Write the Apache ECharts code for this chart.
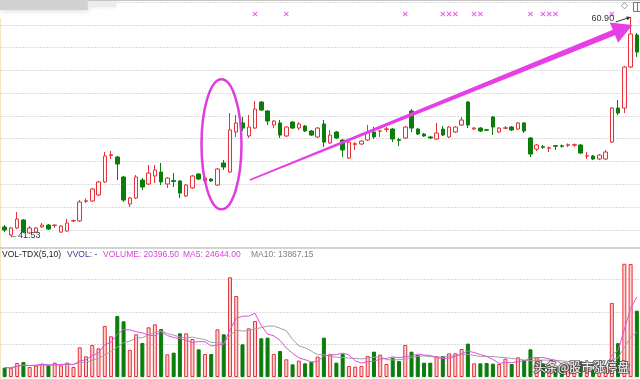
<!DOCTYPE html>
<html><head><meta charset="utf-8">
<script src="https://cdn.jsdelivr.net/npm/echarts@6/dist/echarts.min.js"></script>
<style>html,body{margin:0;padding:0;background:#fff;overflow:hidden}#c{width:640px;height:379px}</style>
</head><body><div id="c"></div>
<script>
// ---- data ----
const opens = [42.33,41.62,42.24,42.95,41.80,41.88,42.33,42.50,42.46,41.88,
41.97,42.86,42.86,44.60,44.63,45.16,46.31,48.65,48.52,46.75,
44.36,44.89,46.48,46.13,46.84,47.19,46.13,46.43,46.40,45.07,
45.78,47.01,46.40,46.57,46.04,47.99,47.19,50.73,51.53,50.38,
51.08,53.38,52.59,51.35,51.53,50.38,51.61,51.08,51.26,50.82,
50.29,51.44,49.76,50.73,50.02,48.43,49.63,49.67,50.02,50.73,
50.80,50.96,50.99,50.05,50.20,52.59,50.99,50.55,50.29,50.11,
50.99,50.29,50.73,51.35,53.38,51.00,51.08,50.93,52.06,50.73,
51.06,51.17,50.99,51.53,50.20,49.22,49.43,49.29,49.52,49.51,
49.55,49.56,49.58,48.59,48.61,48.34,48.34,49.84,52.85,52.85,
56.48,59.31];
const closes = [42.06,42.24,43.03,41.88,42.24,42.24,42.50,42.15,42.50,42.41,
42.68,42.90,44.54,44.65,45.69,46.31,48.61,48.72,47.90,44.71,
44.89,46.75,45.86,47.10,47.37,46.31,46.66,46.36,45.33,46.04,
46.84,46.57,46.66,46.40,47.46,47.63,50.91,51.53,51.08,51.17,
52.76,52.67,51.70,51.70,50.46,51.17,51.08,51.44,50.82,50.46,
51.08,49.84,50.46,50.20,49.14,49.84,49.70,49.93,50.64,50.29,
50.82,51.01,50.11,49.98,51.17,51.08,50.55,50.38,50.20,50.64,
50.46,51.17,51.17,51.79,51.35,51.08,50.82,50.88,51.17,51.08,
51.10,50.91,51.53,50.82,48.78,49.58,49.38,49.33,49.47,49.46,
49.60,49.61,48.87,48.63,48.34,48.69,48.96,52.85,52.41,56.48,
59.40,57.80];
const lows = [41.88,41.53,42.15,41.80,41.72,41.80,42.24,42.06,42.24,41.80,
41.90,42.77,42.77,44.45,44.54,45.07,46.22,48.34,46.48,44.54,
44.10,44.80,45.60,46.04,46.22,46.04,45.78,45.86,44.89,44.98,
45.69,46.48,46.31,46.31,45.95,47.37,47.10,50.29,50.82,50.20,
50.99,52.58,51.35,51.08,50.20,50.29,50.99,50.91,50.73,50.38,
50.20,49.40,49.67,50.11,48.52,48.34,49.14,49.58,49.93,50.11,
50.29,50.73,49.84,49.49,50.11,50.73,50.46,50.29,50.11,50.02,
50.38,50.20,50.64,51.26,51.08,50.91,50.73,50.82,50.46,50.64,
50.99,50.82,50.91,50.64,48.52,49.05,49.22,48.96,49.14,49.35,
49.40,49.42,48.78,48.34,48.25,48.25,48.25,49.76,52.23,52.41,
56.39,57.36];
const highs = [42.50,42.33,43.65,43.03,42.41,42.33,42.68,42.59,42.55,42.50,
43.03,42.99,44.71,44.85,45.78,46.41,48.96,49.05,48.60,46.84,
44.98,46.93,46.66,47.81,47.81,47.99,46.75,47.10,46.48,46.13,
46.93,47.10,46.75,46.66,47.55,48.25,52.41,52.23,52.06,52.23,
53.47,53.47,52.67,51.79,51.79,51.26,51.70,51.61,51.35,50.91,
51.17,51.79,50.91,50.82,50.11,49.93,49.84,50.02,51.35,51.17,
50.90,51.17,51.08,50.20,51.26,52.76,51.08,50.64,50.38,51.53,
51.26,51.26,51.26,52.06,53.47,51.17,51.17,50.99,52.15,51.17,
51.26,51.26,51.61,51.61,50.29,49.67,49.58,49.45,49.58,49.62,
49.72,49.72,49.67,48.96,48.70,48.78,49.14,52.94,53.56,56.57,
60.90,59.49];
const volumes = [2870,2770,4310,4620,3080,3490,4100,3590,4410,3590,
4410,3080,9130,6360,9850,8820,15700,12520,18780,17130,
8310,13130,10470,15290,16210,14770,6980,7490,13440,13440,
11700,8520,7080,7080,14670,13130,30680,24930,10050,14980,
17240,11900,12110,7080,8000,5440,3900,5030,4210,4620,
6260,12100,6980,4410,7080,3390,3180,3390,6460,7800,
6870,4000,5950,4920,9850,7800,6770,4410,4410,6360,
6460,7280,7280,8620,10260,4210,4210,4310,4100,4000,
5640,4000,6050,5230,8520,6050,4210,3700,3390,2980,
3590,4000,4880,2800,2350,2800,2621.5,22800,10400,34850,
34773.5,20396.5];
const signalIdx = [40,45,64,70,71,72,75,76,84,86,87,88,97];   // pink x markers on top row
const signalLevel = 61.17;
const buyIdx = [18];             // red "§" marker
const buyLevel = 40.73;
const priceMin = 40.47, priceMax = 62.23;
const volMax = 40000, volStep = 10000;
// annotation anchors (category index, price)
const ellipseBox = {x0: 31.45, x1: 37.84, top: 55.39, bottom: 43.89};
const arrowFrom = [39.17, 46.48], arrowTo = [100.3, 60.19];

// ---- derived ----
const categories = opens.map((_, i) => String(i + 1));
const kData = opens.map((o, i) => [o, closes[i], lows[i], highs[i]]);
const isUp = i => closes[i] >= opens[i];
function ma(arr, n) {
  return arr.map((_, i) => { const s = Math.max(0, i - n + 1); let t = 0; for (let k = s; k <= i; k++) t += arr[k]; return +(t / (i - s + 1)).toFixed(2); });
}
const ma5 = ma(volumes, 5), ma10 = ma(volumes, 10);
const last = volumes.length - 1;
let hiIdx = 0, loIdx = 0;
highs.forEach((h, i) => { if (h > highs[hiIdx]) hiIdx = i; });
lows.forEach((l, i) => { if (l < lows[loIdx]) loIdx = i; });

const RED = '#e6323a', GREEN = '#0b7d0b', PINK = '#e040e0';
const FONT = '"Liberation Sans", Arial, "DejaVu Sans", sans-serif';
const dotted = {type: [1, 2], color: '#b8b8b8', width: 1};

const chart = echarts.init(document.getElementById('c'), null, {renderer: 'canvas'});
const option = {
  animation: false,
  backgroundColor: '#fff',
  grid: [
    {left: 1.5, right: 0, top: 2, height: 246},
    {left: 1.5, right: 0, top: 247, bottom: 2}
  ],
  xAxis: [
    {gridIndex: 0, type: 'category', data: categories, boundaryGap: true, show: false},
    {gridIndex: 1, type: 'category', data: categories, boundaryGap: true, show: false}
  ],
  yAxis: [
    {gridIndex: 0, type: 'value', min: priceMin, max: priceMax, show: false},
    {gridIndex: 0, type: 'value', min: 0, max: 10.8, interval: 1, inverse: true,
      axisLine: {show: false}, axisTick: {show: false}, axisLabel: {show: false},
      splitLine: {show: true, lineStyle: dotted}},
    {gridIndex: 1, type: 'value', min: 0, max: volMax, interval: volStep,
      axisLine: {show: false}, axisTick: {show: false}, axisLabel: {show: false},
      splitLine: {show: true, lineStyle: dotted}}
  ],
  series: [
    {type: 'candlestick', xAxisIndex: 0, yAxisIndex: 0, data: kData, barWidth: 4, z: 3,
      itemStyle: {color: '#fff8f8', color0: GREEN, borderColor: RED, borderColor0: GREEN, borderWidth: 1},
      markPoint: {symbol: 'circle', symbolSize: 0, silent: true,
        data: [
          {coord: [hiIdx, highs[hiIdx]], value: highs[hiIdx],
            label: {show: true, formatter: p => p.value.toFixed(2), position: [-39, -3], fontSize: 9, color: '#333', fontFamily: FONT}},
          {coord: [loIdx, lows[loIdx]], value: lows[loIdx],
            label: {show: true, formatter: p => '\u2190' + p.value.toFixed(2), position: [-2, -5], fontSize: 9, color: '#333', fontFamily: FONT}}
        ]}
    },
    {type: 'scatter', xAxisIndex: 0, yAxisIndex: 0, z: 4,
      data: signalIdx.map(i => [i, signalLevel]),
      symbol: 'path://M0,1.5L1.5,0L5,3.5L8.5,0L10,1.5L6.5,5L10,8.5L8.5,10L5,6.5L1.5,10L0,8.5L3.5,5Z', symbolSize: 5,
      itemStyle: {color: PINK}},
    {type: 'scatter', xAxisIndex: 0, yAxisIndex: 0, z: 4,
      data: buyIdx.map(i => [i, buyLevel]), symbolSize: 1, itemStyle: {opacity: 0},
      label: {show: true, position: 'inside', formatter: '\u00a7', color: '#e00', fontSize: 10, fontWeight: 'bold', fontFamily: FONT}},
    {type: 'bar', xAxisIndex: 1, yAxisIndex: 2, barWidth: 4, z: 2,
      data: volumes.map((v, i) => ({value: v, itemStyle: isUp(i)
        ? {color: '#ffd0d0', borderColor: RED, borderWidth: 1}
        : {color: GREEN, borderColor: GREEN, borderWidth: 1}}))},
    {type: 'line', xAxisIndex: 1, yAxisIndex: 2, data: ma10, symbol: 'none', z: 3,
      lineStyle: {color: '#a0a0a0', width: 1}},
    {type: 'line', xAxisIndex: 1, yAxisIndex: 2, data: ma5, symbol: 'none', z: 4,
      lineStyle: {color: '#e050e0', width: 1}}
  ]
};
chart.setOption(option);

// ---- annotations placed through the chart's own scales ----
function P(idx, price) {
  const a = chart.convertToPixel({xAxisIndex: 0, yAxisIndex: 0}, [0, price]);
  const b = chart.convertToPixel({xAxisIndex: 0, yAxisIndex: 0}, [1, price]);
  return [a[0] + idx * (b[0] - a[0]), a[1]];
}
const eL = P(ellipseBox.x0, ellipseBox.top), eR = P(ellipseBox.x1, ellipseBox.bottom);
const s = P(arrowFrom[0], arrowFrom[1]), t = P(arrowTo[0], arrowTo[1]);
const dx = t[0] - s[0], dy = t[1] - s[1], len = Math.hypot(dx, dy);
const ux = dx / len, uy = dy / len, nx = -uy, ny = ux;
const headLen = 20, headW = 11, w0 = 0.8, w1 = 3;
const bc = [t[0] - ux * headLen, t[1] - uy * headLen];
const arrowPoly = [
  [s[0] + nx * w0, s[1] + ny * w0],
  [bc[0] + nx * w1, bc[1] + ny * w1],
  [bc[0] + nx * headW, bc[1] + ny * headW],
  [t[0], t[1]],
  [bc[0] - nx * headW, bc[1] - ny * headW],
  [bc[0] - nx * w1, bc[1] - ny * w1],
  [s[0] - nx * w0, s[1] - ny * w0]
];
const hp = P(hiIdx, highs[hiIdx]);
const ha = [hp[0] - 15, hp[1] + 5];
const hdx = hp[0] - ha[0], hdy = hp[1] - ha[1], hl = Math.hypot(hdx, hdy);
const hux = hdx / hl, huy = hdy / hl;

const hdrY = 255;
chart.setOption({graphic: [
  // top blurred title + border
  {type: 'rect', shape: {x: 0, y: 0, width: 88, height: 10}, style: {fill: '#d2d2d2', shadowBlur: 6, shadowColor: '#cfcfcf'}, z: 1},
  {type: 'rect', shape: {x: 88, y: 0, width: 28, height: 7}, style: {fill: '#ececec', shadowBlur: 4, shadowColor: '#e4e4e4'}, z: 1},
  {type: 'line', shape: {x1: 88, y1: 0.5, x2: 640, y2: 0.5}, style: {stroke: '#c4c4c4', lineWidth: 1}, z: 1},
  {type: 'line', shape: {x1: 0.5, y1: 18, x2: 0.5, y2: 379}, style: {stroke: '#efe5bf', lineWidth: 1}, z: 1},
  // panel separator
  {type: 'line', shape: {x1: 0, y1: 248, x2: 640, y2: 248}, style: {stroke: '#c0c0c0', lineWidth: 1}, z: 5},
  // top-right icons
  {type: 'text', x: 621, y: 1, style: {text: '\u25c7', fontSize: 9, fill: '#777', fontFamily: '"DejaVu Sans"'}, z: 10},
  {type: 'rect', shape: {x: 633.5, y: 2.5, width: 7, height: 9}, style: {fill: '#fff', stroke: '#777', lineWidth: 1}, z: 10},
  {type: 'line', shape: {x1: 637.5, y1: 2.5, x2: 637.5, y2: 11.5}, style: {stroke: '#777', lineWidth: 1}, z: 10},
  // ellipse and arrow annotation
  {type: 'ellipse', shape: {cx: (eL[0] + eR[0]) / 2, cy: (eL[1] + eR[1]) / 2, rx: (eR[0] - eL[0]) / 2, ry: (eR[1] - eL[1]) / 2},
    style: {fill: null, stroke: '#e03ce0', lineWidth: 2.5}, z: 20},
  {type: 'polygon', shape: {points: arrowPoly}, style: {fill: '#e63fe6'}, z: 20},
  // small arrow for the high label
  {type: 'line', shape: {x1: ha[0], y1: ha[1], x2: hp[0] - hux * 3, y2: hp[1] - huy * 3}, style: {stroke: '#333', lineWidth: 1}, z: 20},
  {type: 'polygon', shape: {points: [[hp[0], hp[1]], [hp[0] - hux * 4 - huy * 2, hp[1] - huy * 4 + hux * 2], [hp[0] - hux * 4 + huy * 2, hp[1] - huy * 4 - hux * 2]]}, style: {fill: '#333'}, z: 20},
  // volume header
  {type: 'text', x: 2, y: hdrY, style: {text: 'VOL-TDX(5,10)', fontSize: 8.5, fill: '#222', fontFamily: FONT, verticalAlign: 'middle'}, z: 10},
  {type: 'text', x: 67, y: hdrY, style: {text: 'VVOL: -', fontSize: 8.5, fill: '#3b3b8f', fontFamily: FONT, verticalAlign: 'middle'}, z: 10},
  {type: 'text', x: 103, y: hdrY, style: {text: 'VOLUME: ' + volumes[last].toFixed(2), fontSize: 8.5, fill: '#d846d8', fontFamily: FONT, verticalAlign: 'middle'}, z: 10},
  {type: 'text', x: 183, y: hdrY, style: {text: 'MA5: ' + ma5[last].toFixed(2), fontSize: 8.5, fill: '#d846d8', fontFamily: FONT, verticalAlign: 'middle'}, z: 10},
  {type: 'text', x: 251, y: hdrY, style: {text: 'MA10: ' + ma10[last].toFixed(2), fontSize: 8.5, fill: '#808080', fontFamily: FONT, verticalAlign: 'middle'}, z: 10},
  // watermark
  {type: 'text', x: 534, y: 367, style: {text: '头条@股市涨停盘', fontSize: 12, fill: 'rgba(255,255,255,0.95)', stroke: 'rgba(60,60,60,0.75)', lineWidth: 2, fontFamily: '"Noto Sans CJK SC"', verticalAlign: 'middle'}, z: 30}
]});
</script>
</body></html>
